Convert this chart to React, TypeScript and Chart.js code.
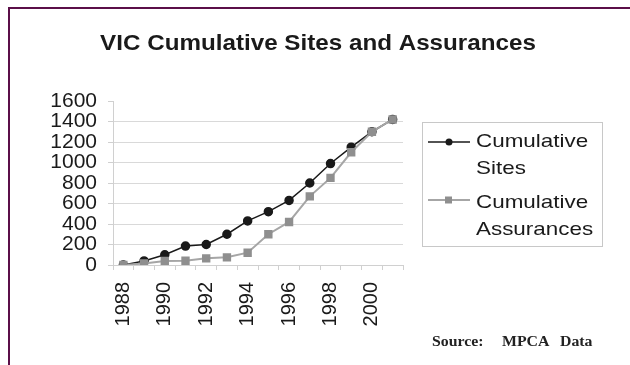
import React, { useEffect, useRef } from "react";
import { Chart, registerables } from "chart.js";

Chart.register(...registerables);

const years = ["1988","1989","1990","1991","1992","1993","1994","1995","1996","1997","1998","1999","2000","2001"];
const sites = [0, 40, 100, 185, 200, 300, 430, 520, 630, 800, 990, 1150, 1300, 1420];
const assurances = [0, 15, 40, 42, 65, 75, 120, 300, 420, 670, 850, 1100, 1300, 1420];
const seriesNames = ["Cumulative Sites", "Cumulative Assurances"];
const yTicks = { min: 0, max: 1600, step: 200 };
const titleText = "VIC Cumulative Sites and Assurances";
const sourceWords = ["Source:", "MPCA", "Data"];

const SANS = "'Liberation Sans', Arial, sans-serif";
const SERIF = "'Liberation Serif', 'Times New Roman', serif";

function stretchedText(ctx: CanvasRenderingContext2D, text: string, x: number, y: number, sx: number, align: "left" | "center" = "left") {
  ctx.save();
  ctx.translate(x, y);
  ctx.scale(sx, 1);
  ctx.textAlign = align;
  ctx.fillText(text, 0, 0);
  ctx.restore();
}

const decorPlugin = {
  id: "decor",
  beforeDraw(chart: any) {
    const ctx = chart.ctx as CanvasRenderingContext2D;
    ctx.save();
    ctx.fillStyle = "#ffffff";
    ctx.fillRect(0, 0, chart.width, chart.height);
    ctx.strokeStyle = "#5b0f48";
    ctx.lineWidth = 2;
    ctx.beginPath();
    ctx.moveTo(630, 8);
    ctx.lineTo(9, 8);
    ctx.lineTo(9, 365);
    ctx.stroke();
    ctx.restore();
  },
  afterDraw(chart: any) {
    const ctx = chart.ctx as CanvasRenderingContext2D;
    ctx.save();
    ctx.fillStyle = "#1a1a1a";
    ctx.font = `bold 22px ${SANS}`;
    ctx.textBaseline = "alphabetic";
    stretchedText(ctx, titleText, 318, 50, 1.1, "center");

    ctx.strokeStyle = "#c8c8c8";
    ctx.lineWidth = 1;
    ctx.strokeRect(422.5, 122.5, 180, 124);
    const entries = [
      { ds: chart.data.datasets[0], lineY: 142, baselines: [147, 174] },
      { ds: chart.data.datasets[1], lineY: 200, baselines: [208, 235] },
    ];
    ctx.font = `19px ${SANS}`;
    entries.forEach((e) => {
      ctx.strokeStyle = e.ds.borderColor;
      ctx.lineWidth = e.ds.borderWidth;
      ctx.beginPath();
      ctx.moveTo(428, e.lineY);
      ctx.lineTo(470, e.lineY);
      ctx.stroke();
      ctx.fillStyle = e.ds.pointBackgroundColor;
      if (e.ds.pointStyle === "rect") {
        ctx.fillRect(445, e.lineY - 3.5, 7, 7);
      } else {
        ctx.beginPath();
        ctx.arc(449, e.lineY, 3.5, 0, Math.PI * 2);
        ctx.fill();
      }
      const words = String(e.ds.label).split(" ");
      ctx.fillStyle = "#1a1a1a";
      words.forEach((w: string, i: number) => {
        stretchedText(ctx, w, 476, e.baselines[i], 1.18);
      });
    });

    ctx.font = `bold 14px ${SERIF}`;
    ctx.fillStyle = "#222";
    const xs = [432, 502, 560];
    sourceWords.forEach((w, i) => stretchedText(ctx, w, xs[i], 346, 1.13));
    ctx.restore();
  },
};

export default function App() {
  const ref = useRef<HTMLCanvasElement | null>(null);
  useEffect(() => {
    if (!ref.current) return;
    const chart = new Chart(ref.current, {
      type: "line",
      data: {
        labels: years,
        datasets: [
          {
            label: seriesNames[0],
            data: sites,
            borderColor: "#1a1a1a",
            backgroundColor: "#1a1a1a",
            pointBackgroundColor: "#1a1a1a",
            pointBorderColor: "#1a1a1a",
            borderWidth: 1.5,
            pointStyle: "circle",
            pointRadius: 4,
            tension: 0,
            order: 2,
          } as any,
          {
            label: seriesNames[1],
            data: assurances,
            borderColor: "#a6a6a6",
            backgroundColor: "#8f8f8f",
            pointBackgroundColor: "#8f8f8f",
            pointBorderColor: "#8f8f8f",
            borderWidth: 2,
            pointStyle: "rect",
            pointRadius: 4.5,
            tension: 0,
            order: 1,
          } as any,
        ],
      },
      options: {
        animation: false,
        responsive: false,
        devicePixelRatio: 1,
        layout: { padding: { left: 0, top: 101, right: 227, bottom: 0 } },
        plugins: {
          legend: { display: false },
          title: { display: false },
          tooltip: { enabled: false },
        },
        scales: {
          x: {
            type: "category",
            offset: true,
            afterFit: (s: any) => { s.height = 100; },
            grid: {
              display: true,
              drawOnChartArea: false,
              offset: true,
              tickLength: 5,
              color: "#d0d0d0",
            },
            border: { display: true, color: "#d0d0d0", width: 1 },
            ticks: {
              autoSkip: false,
              maxRotation: 90,
              minRotation: 90,
              padding: 12,
              color: "#1a1a1a",
              font: { family: SANS, size: 20 },
              callback: (_v: any, i: number) => (i % 2 === 0 ? years[i] : ""),
            },
          },
          y: {
            min: yTicks.min,
            max: yTicks.max,
            afterFit: (s: any) => { s.width = 113; },
            grid: {
              color: (c: any) => (c.tick && c.tick.value === yTicks.max ? "rgba(0,0,0,0)" : "#d9d9d9"),
              tickColor: "#d0d0d0",
              tickLength: 5,
            },
            border: { display: true, color: "#d0d0d0", width: 1 },
            ticks: {
              autoSkip: false,
              stepSize: yTicks.step,
              padding: 11,
              color: "#1a1a1a",
              font: { family: SANS, size: 21 },
              callback: (v: any) => String(v),
            },
          },
        },
      },
      plugins: [decorPlugin],
    });
    return () => chart.destroy();
  }, []);
  return (
    <div style={{ position: "absolute", left: 0, top: 0, width: 630, height: 365 }}>
      <canvas ref={ref} width={630} height={365} style={{ display: "block", width: 630, height: 365 }} />
    </div>
  );
}
